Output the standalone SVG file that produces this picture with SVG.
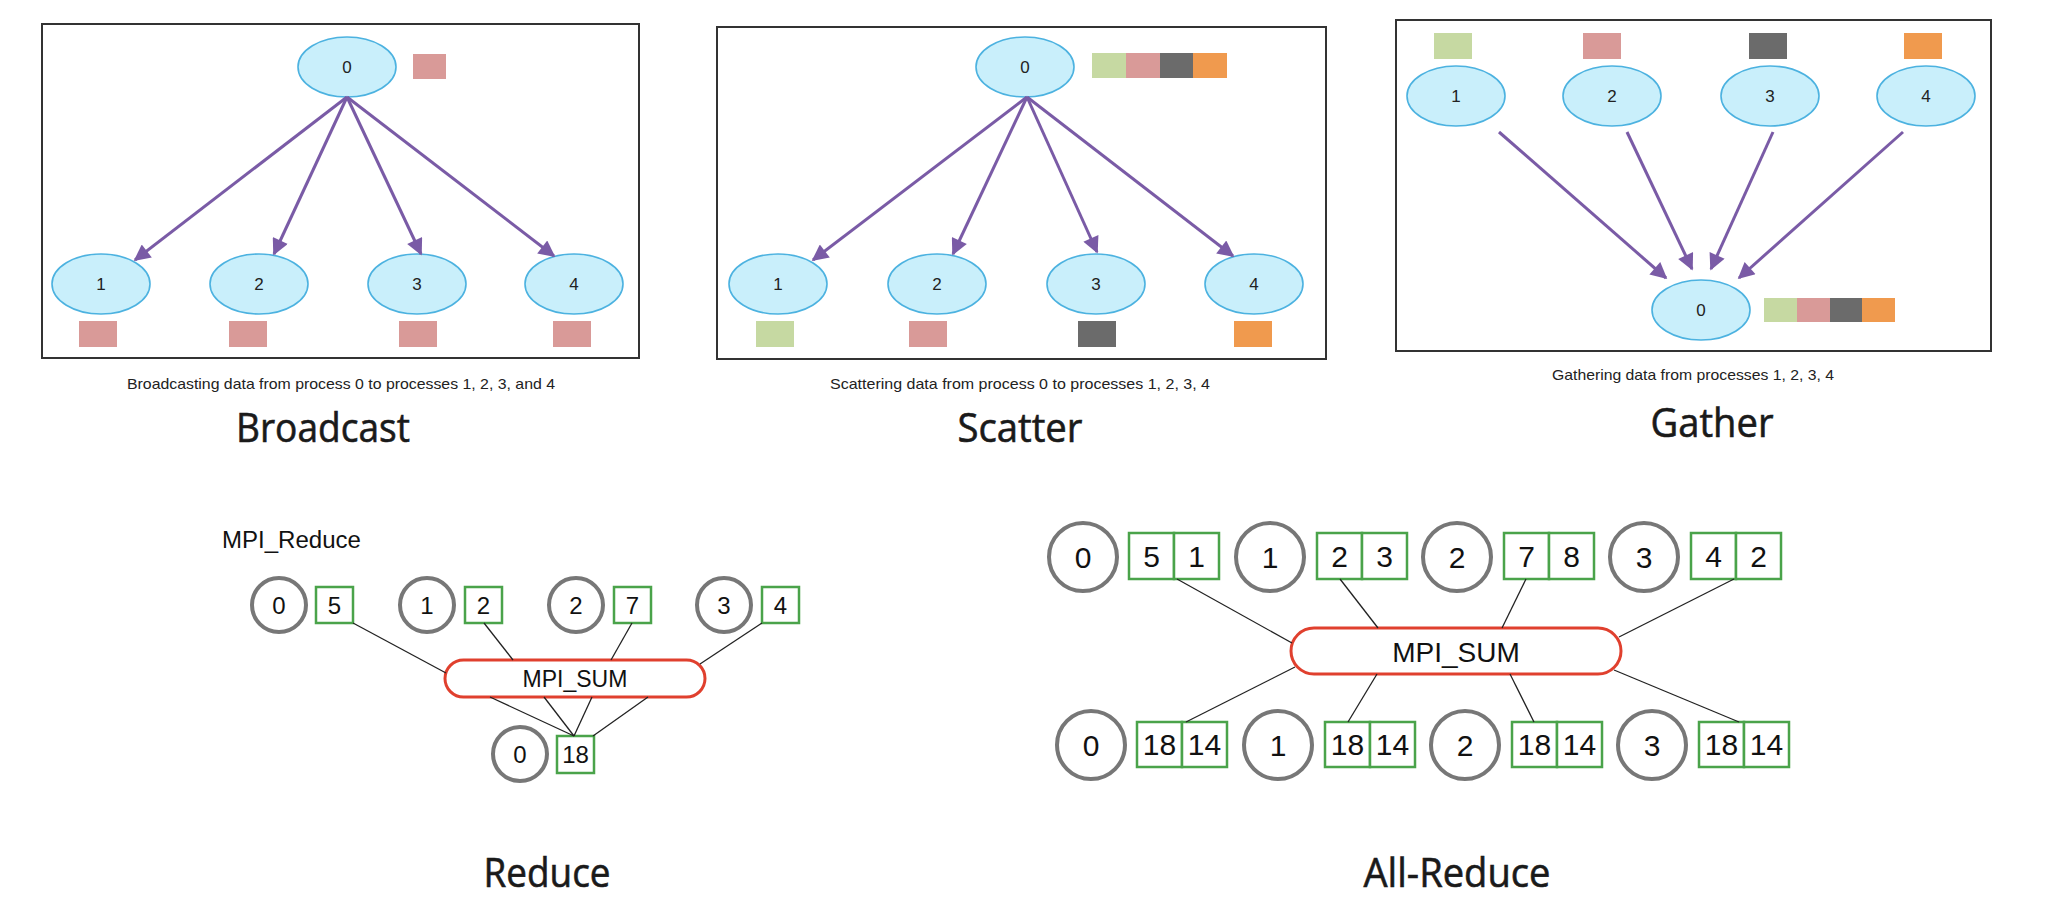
<svg xmlns="http://www.w3.org/2000/svg" width="2058" height="904" viewBox="0 0 2058 904">
<style>
.panel{fill:#fff;stroke:#333;stroke-width:2}
.proc{fill:#c9effb;stroke:#4cb2e0;stroke-width:1.6}
.plbl{font-family:"Liberation Sans",Arial,sans-serif;font-size:17px;fill:#222;text-anchor:middle;dominant-baseline:central}
.arr{stroke:#7a5ba6;stroke-width:3;fill:none;marker-end:url(#ah)}
.cap{font-family:"Liberation Sans",Arial,sans-serif;font-size:15px;fill:#222;text-anchor:middle}
.title{font-family:"Open Sans","Liberation Sans",sans-serif;font-size:40px;fill:#1a1a1a;text-anchor:middle;stroke:#1a1a1a;stroke-width:0.6}
.pink{fill:#d99a98}.green{fill:#c6d9a2}.gray{fill:#6b6b6b}.orange{fill:#f09a4e}
.ring{fill:#fff;stroke:#777;stroke-width:4}
.cell{fill:#fff;stroke:#4aa34a;stroke-width:2.5}
.sum{fill:#fff;stroke:#e0402e;stroke-width:3}
.num{font-family:"Liberation Sans",Arial,sans-serif;fill:#111;text-anchor:middle;dominant-baseline:central}
.lbl{font-family:"Liberation Sans",Arial,sans-serif;fill:#111;text-anchor:start}
.ln{stroke:#222;stroke-width:1.3;fill:none}
</style>
<defs>
<marker id="ah" viewBox="0 0 10 10" refX="9" refY="5" markerWidth="6.5" markerHeight="5.5" orient="auto" markerUnits="strokeWidth">
<path d="M0,0 L10,5 L0,10 z" fill="#7a5ba6"/>
</marker>
</defs>
<rect width="2058" height="904" fill="#fff"/>

<!-- Broadcast -->
<g id="broadcast">
<rect class="panel" x="42" y="24" width="597" height="334"/>
<g id="bc-n0"><ellipse class="proc" cx="347" cy="67" rx="49" ry="30"/><text class="plbl" x="347" y="67">0</text></g>
<rect class="pink" x="413" y="54" width="33" height="25"/>
<g id="bc-n1"><ellipse class="proc" cx="101" cy="284" rx="49" ry="30"/><text class="plbl" x="101" y="284">1</text></g>
<g id="bc-n2"><ellipse class="proc" cx="259" cy="284" rx="49" ry="30"/><text class="plbl" x="259" y="284">2</text></g>
<g id="bc-n3"><ellipse class="proc" cx="417" cy="284" rx="49" ry="30"/><text class="plbl" x="417" y="284">3</text></g>
<g id="bc-n4"><ellipse class="proc" cx="574" cy="284" rx="49" ry="30"/><text class="plbl" x="574" y="284">4</text></g>
<rect class="pink" x="79" y="321" width="38" height="26"/>
<rect class="pink" x="229" y="321" width="38" height="26"/>
<rect class="pink" x="399" y="321" width="38" height="26"/>
<rect class="pink" x="553" y="321" width="38" height="26"/>
<text class="cap" x="341" y="389" textLength="428" lengthAdjust="spacingAndGlyphs">Broadcasting data from process 0 to processes 1, 2, 3, and 4</text>
<text class="title" x="323" y="442" textLength="174" lengthAdjust="spacingAndGlyphs">Broadcast</text>
</g>

<!-- Scatter -->
<g id="scatter">
<rect class="panel" x="717" y="27" width="609" height="332"/>
<g id="sc-n0"><ellipse class="proc" cx="1025" cy="67" rx="49" ry="30"/><text class="plbl" x="1025" y="67">0</text></g>
<rect class="green" x="1092" y="53" width="34" height="25"/>
<rect class="pink" x="1126" y="53" width="34" height="25"/>
<rect class="gray" x="1160" y="53" width="33" height="25"/>
<rect class="orange" x="1193" y="53" width="34" height="25"/>
<g id="sc-n1"><ellipse class="proc" cx="778" cy="284" rx="49" ry="30"/><text class="plbl" x="778" y="284">1</text></g>
<g id="sc-n2"><ellipse class="proc" cx="937" cy="284" rx="49" ry="30"/><text class="plbl" x="937" y="284">2</text></g>
<g id="sc-n3"><ellipse class="proc" cx="1096" cy="284" rx="49" ry="30"/><text class="plbl" x="1096" y="284">3</text></g>
<g id="sc-n4"><ellipse class="proc" cx="1254" cy="284" rx="49" ry="30"/><text class="plbl" x="1254" y="284">4</text></g>
<rect class="green" x="756" y="321" width="38" height="26"/>
<rect class="pink" x="909" y="321" width="38" height="26"/>
<rect class="gray" x="1078" y="321" width="38" height="26"/>
<rect class="orange" x="1234" y="321" width="38" height="26"/>
<text class="cap" x="1020" y="389" textLength="380" lengthAdjust="spacingAndGlyphs">Scattering data from process 0 to processes 1, 2, 3, 4</text>
<text class="title" x="1020" y="442" textLength="125" lengthAdjust="spacingAndGlyphs">Scatter</text>
</g>

<!-- Gather -->
<g id="gather">
<rect class="panel" x="1396" y="20" width="595" height="331"/>
<rect class="green" x="1434" y="33" width="38" height="26"/>
<rect class="pink" x="1583" y="33" width="38" height="26"/>
<rect class="gray" x="1749" y="33" width="38" height="26"/>
<rect class="orange" x="1904" y="33" width="38" height="26"/>
<g id="ga-n1"><ellipse class="proc" cx="1456" cy="96" rx="49" ry="30"/><text class="plbl" x="1456" y="96">1</text></g>
<g id="ga-n2"><ellipse class="proc" cx="1612" cy="96" rx="49" ry="30"/><text class="plbl" x="1612" y="96">2</text></g>
<g id="ga-n3"><ellipse class="proc" cx="1770" cy="96" rx="49" ry="30"/><text class="plbl" x="1770" y="96">3</text></g>
<g id="ga-n4"><ellipse class="proc" cx="1926" cy="96" rx="49" ry="30"/><text class="plbl" x="1926" y="96">4</text></g>
<g id="ga-n0"><ellipse class="proc" cx="1701" cy="310" rx="49" ry="30"/><text class="plbl" x="1701" y="310">0</text></g>
<rect class="green" x="1764" y="298" width="33" height="24"/>
<rect class="pink" x="1797" y="298" width="33" height="24"/>
<rect class="gray" x="1830" y="298" width="32" height="24"/>
<rect class="orange" x="1862" y="298" width="33" height="24"/>
<text class="cap" x="1693" y="380" textLength="282" lengthAdjust="spacingAndGlyphs">Gathering data from processes 1, 2, 3, 4</text>
<text class="title" x="1712" y="437" textLength="123" lengthAdjust="spacingAndGlyphs">Gather</text>
</g>

<!-- Reduce -->
<g id="reduce">
<text class="lbl" x="222" y="548" font-size="23" textLength="139" lengthAdjust="spacingAndGlyphs">MPI_Reduce</text>
<g id="rd-p0"><circle class="ring" cx="279" cy="605" r="27"/><text class="num" x="279" y="605" font-size="24">0</text><rect class="cell" x="316" y="587" width="37" height="36"/><text class="num" x="334.5" y="605" font-size="24">5</text></g>
<g id="rd-p1"><circle class="ring" cx="427" cy="605" r="27"/><text class="num" x="427" y="605" font-size="24">1</text><rect class="cell" x="465" y="587" width="37" height="36"/><text class="num" x="483.5" y="605" font-size="24">2</text></g>
<g id="rd-p2"><circle class="ring" cx="576" cy="605" r="27"/><text class="num" x="576" y="605" font-size="24">2</text><rect class="cell" x="614" y="587" width="37" height="36"/><text class="num" x="632.5" y="605" font-size="24">7</text></g>
<g id="rd-p3"><circle class="ring" cx="724" cy="605" r="27"/><text class="num" x="724" y="605" font-size="24">3</text><rect class="cell" x="762" y="587" width="37" height="36"/><text class="num" x="780.5" y="605" font-size="24">4</text></g>
<g id="rd-sum"><rect class="sum" x="445" y="660" width="260" height="37" rx="18.5"/><text class="num" x="575" y="679" font-size="23">MPI_SUM</text></g>
<g id="rd-res"><circle class="ring" cx="520" cy="754" r="27"/><text class="num" x="520" y="754" font-size="24">0</text><rect class="cell" x="557" y="736" width="37" height="37"/><text class="num" x="575.5" y="754" font-size="24">18</text></g>
<text class="title" x="547" y="887" textLength="127" lengthAdjust="spacingAndGlyphs">Reduce</text>
</g>

<!-- All-Reduce -->
<g id="allreduce">
<g id="ar-t0"><circle class="ring" cx="1083" cy="557" r="34"/><text class="num" x="1083" y="557" font-size="30">0</text><rect class="cell" x="1129" y="533" width="45" height="46"/><rect class="cell" x="1174" y="533" width="45" height="46"/><text class="num" x="1151.5" y="556" font-size="30">5</text><text class="num" x="1196.5" y="556" font-size="30">1</text></g>
<g id="ar-t1"><circle class="ring" cx="1270" cy="557" r="34"/><text class="num" x="1270" y="557" font-size="30">1</text><rect class="cell" x="1317" y="533" width="45" height="46"/><rect class="cell" x="1362" y="533" width="45" height="46"/><text class="num" x="1339.5" y="556" font-size="30">2</text><text class="num" x="1384.5" y="556" font-size="30">3</text></g>
<g id="ar-t2"><circle class="ring" cx="1457" cy="557" r="34"/><text class="num" x="1457" y="557" font-size="30">2</text><rect class="cell" x="1504" y="533" width="45" height="46"/><rect class="cell" x="1549" y="533" width="45" height="46"/><text class="num" x="1526.5" y="556" font-size="30">7</text><text class="num" x="1571.5" y="556" font-size="30">8</text></g>
<g id="ar-t3"><circle class="ring" cx="1644" cy="557" r="34"/><text class="num" x="1644" y="557" font-size="30">3</text><rect class="cell" x="1691" y="533" width="45" height="46"/><rect class="cell" x="1736" y="533" width="45" height="46"/><text class="num" x="1713.5" y="556" font-size="30">4</text><text class="num" x="1758.5" y="556" font-size="30">2</text></g>
<g id="ar-sum"><rect class="sum" x="1291" y="628" width="330" height="46" rx="23"/><text class="num" x="1456" y="652" font-size="28">MPI_SUM</text></g>
<g id="ar-b0"><circle class="ring" cx="1091" cy="745" r="34"/><text class="num" x="1091" y="745" font-size="30">0</text><rect class="cell" x="1137" y="722" width="45" height="45"/><rect class="cell" x="1182" y="722" width="45" height="45"/><text class="num" x="1159.5" y="744" font-size="30">18</text><text class="num" x="1204.5" y="744" font-size="30">14</text></g>
<g id="ar-b1"><circle class="ring" cx="1278" cy="745" r="34"/><text class="num" x="1278" y="745" font-size="30">1</text><rect class="cell" x="1325" y="722" width="45" height="45"/><rect class="cell" x="1370" y="722" width="45" height="45"/><text class="num" x="1347.5" y="744" font-size="30">18</text><text class="num" x="1392.5" y="744" font-size="30">14</text></g>
<g id="ar-b2"><circle class="ring" cx="1465" cy="745" r="34"/><text class="num" x="1465" y="745" font-size="30">2</text><rect class="cell" x="1512" y="722" width="45" height="45"/><rect class="cell" x="1557" y="722" width="45" height="45"/><text class="num" x="1534.5" y="744" font-size="30">18</text><text class="num" x="1579.5" y="744" font-size="30">14</text></g>
<g id="ar-b3"><circle class="ring" cx="1652" cy="745" r="34"/><text class="num" x="1652" y="745" font-size="30">3</text><rect class="cell" x="1699" y="722" width="45" height="45"/><rect class="cell" x="1744" y="722" width="45" height="45"/><text class="num" x="1721.5" y="744" font-size="30">18</text><text class="num" x="1766.5" y="744" font-size="30">14</text></g>
<text class="title" x="1457" y="887" textLength="187" lengthAdjust="spacingAndGlyphs">All-Reduce</text>
</g>

<g id="connectors">
<line class="arr" x1="347" y1="97" x2="135" y2="260"/>
<line class="arr" x1="347" y1="97" x2="274" y2="254"/>
<line class="arr" x1="347" y1="97" x2="421" y2="254"/>
<line class="arr" x1="347" y1="97" x2="554" y2="256"/>
<line class="arr" x1="1027" y1="97" x2="813" y2="260"/>
<line class="arr" x1="1027" y1="97" x2="953" y2="254"/>
<line class="arr" x1="1027" y1="97" x2="1097" y2="252"/>
<line class="arr" x1="1027" y1="97" x2="1233" y2="256"/>
<line class="arr" x1="1499" y1="132" x2="1666" y2="278"/>
<line class="arr" x1="1627" y1="132" x2="1692" y2="269"/>
<line class="arr" x1="1773" y1="132" x2="1711" y2="269"/>
<line class="arr" x1="1903" y1="132" x2="1739" y2="278"/>
<line class="ln" x1="353" y1="623" x2="446" y2="673"/>
<line class="ln" x1="484" y1="623" x2="513" y2="660"/>
<line class="ln" x1="632" y1="623" x2="611" y2="660"/>
<line class="ln" x1="762" y1="623" x2="700" y2="664"/>
<line class="ln" x1="490" y1="697" x2="574" y2="736"/>
<line class="ln" x1="544" y1="697" x2="574" y2="736"/>
<line class="ln" x1="592" y1="697" x2="574" y2="736"/>
<line class="ln" x1="648" y1="697" x2="593" y2="736"/>
<line class="ln" x1="1177" y1="579" x2="1292" y2="643"/>
<line class="ln" x1="1340" y1="579" x2="1378" y2="628"/>
<line class="ln" x1="1526" y1="579" x2="1502" y2="628"/>
<line class="ln" x1="1734" y1="579" x2="1619" y2="637"/>
<line class="ln" x1="1295" y1="667" x2="1186" y2="722"/>
<line class="ln" x1="1377" y1="674" x2="1348" y2="722"/>
<line class="ln" x1="1510" y1="674" x2="1534" y2="722"/>
<line class="ln" x1="1614" y1="670" x2="1739" y2="722"/>
</g>
</svg>
